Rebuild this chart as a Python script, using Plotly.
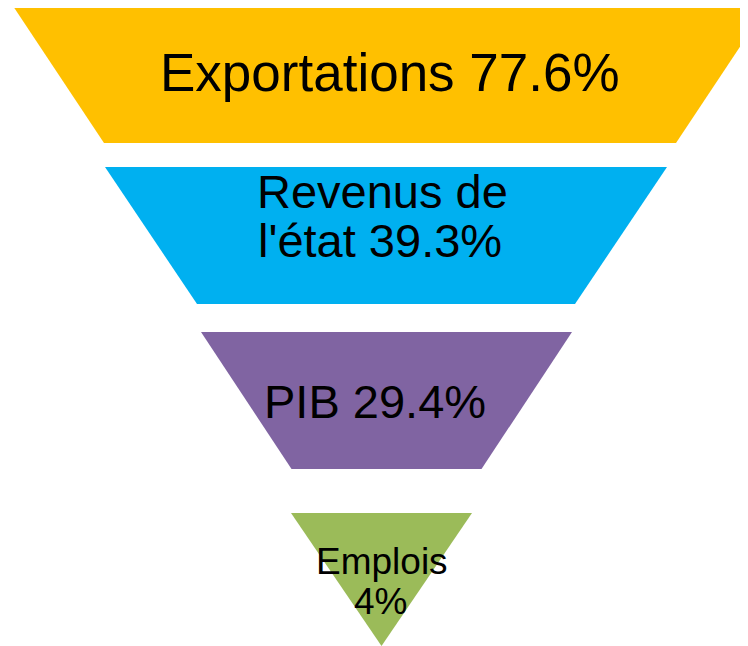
import plotly.graph_objects as go

# Data
categories = ["Exportations", "Revenus de l'état", "PIB", "Emplois"]
values = [77.6, 39.3, 29.4, 4]
colors = ["#FFC000", "#00B0F0", "#8064A2", "#9BBB59"]

# Text lines for each level (as displayed)
text_lines = [
    ["Exportations 77.6%"],
    ["Revenus de", "l'état 39.3%"],
    ["PIB 29.4%"],
    ["Emplois", "4%"],
]

# Layout geometry (pixel-like units on the axes)
band_top = [6, 167, 332, 513]
band_bottom = [143, 304, 469, 646]
center_x = [390, 386, 386.5, 381.5]
half_top = [377, 281, 185.5, 90.5]
half_bottom = [286, 189, 95, 0]
font_sizes = [53, 47, 47, 37]
line_y = [[72], [191, 240], [401], [561, 601]]
line_x = [[390], [382, 380], [375], [382, 380]]

# page offset of the plot div (default body margin)
OFF = 8

fig = go.Figure()
for i, cat in enumerate(categories):
    xs = [center_x[i] - half_top[i], center_x[i] + half_top[i],
          center_x[i] + half_bottom[i], center_x[i] - half_bottom[i],
          center_x[i] - half_top[i]]
    ys = [band_top[i], band_top[i], band_bottom[i], band_bottom[i], band_top[i]]
    fig.add_trace(go.Scatter(
        x=xs, y=ys, mode="lines", fill="toself",
        fillcolor=colors[i], line=dict(width=0, color=colors[i]),
        hoverinfo="text", text=f"{cat} {values[i]}%", showlegend=False,
    ))
    for j, line in enumerate(text_lines[i]):
        fig.add_annotation(
            x=line_x[i][j], y=line_y[i][j], text=line, showarrow=False,
            xanchor="center", yanchor="middle",
            font=dict(family="Liberation Sans, Arial, sans-serif",
                      size=font_sizes[i], color="#000000"),
        )

fig.update_layout(
    width=748 - OFF, height=646 - OFF,
    margin=dict(l=0, r=0, t=0, b=0),
    paper_bgcolor="white", plot_bgcolor="white",
    xaxis=dict(range=[OFF, 748], visible=False, fixedrange=True),
    yaxis=dict(range=[646, OFF], visible=False, fixedrange=True),
)

fig.write_html("out.html")
